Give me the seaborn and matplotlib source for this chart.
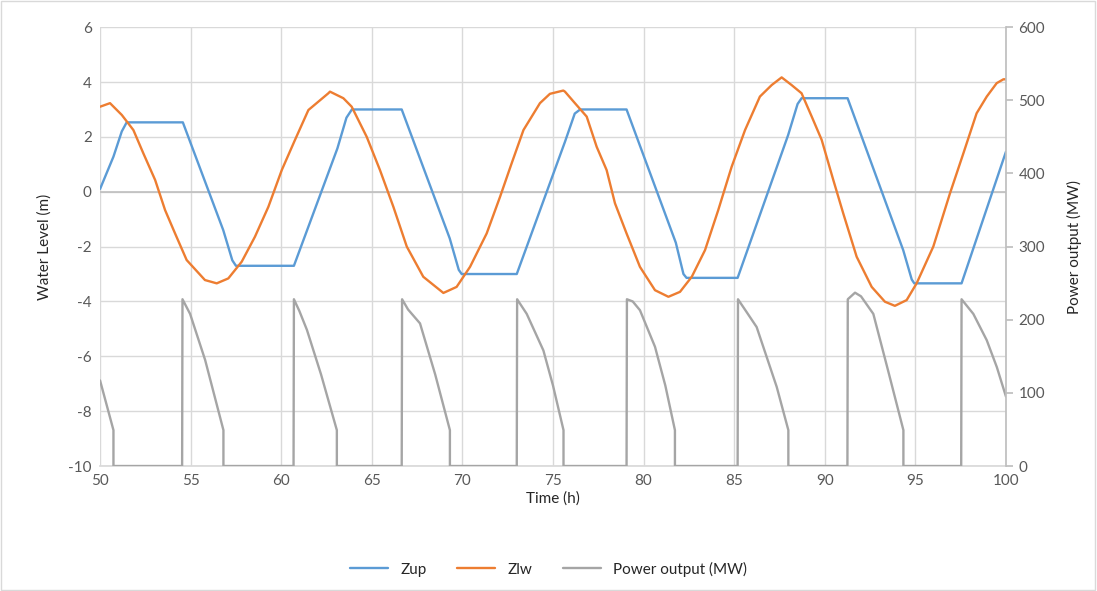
import matplotlib
matplotlib.use("Agg")
import matplotlib.pyplot as plt
import seaborn as sns

# Upper reservoir level (m)
zup_t = [50, 50.74, 51.2, 51.47, 54.57, 56.8, 57.3, 57.5, 60.7, 63.1, 63.6, 63.9,
         66.65, 69.3, 69.8, 69.96, 73.0, 75.66, 76.2, 76.5, 79.06, 81.78, 82.2, 82.37,
         85.19, 87.98, 88.5, 88.72, 91.26, 94.33, 94.8, 94.94, 97.55, 100]
zup = [0.1, 1.28, 2.2, 2.53, 2.53, -1.4, -2.5, -2.7, -2.7, 1.58, 2.7, 3.0,
       3.0, -1.7, -2.85, -3.0, -3.0, 1.82, 2.85, 3.0, 3.0, -1.86, -3.0, -3.14,
       -3.14, 2.07, 3.2, 3.41, 3.41, -2.13, -3.2, -3.34, -3.34, 1.46]

# Lower reservoir level (m)
zlw_t = [50, 50.55, 51.2, 51.84, 52.39, 53.04, 53.59, 54.14, 54.78, 55.79, 56.44,
         57.08, 57.82, 58.55, 59.29, 60.03, 60.76, 61.5, 62.6, 62.69, 63.43, 63.89,
         64.72, 65.45, 66.19, 66.93, 67.84, 68.95, 69.68, 70.42, 71.34, 72.08, 72.72,
         73.37, 74.28, 74.83, 75.57, 75.66, 76.21, 76.86, 77.41, 77.96, 78.42, 79.06,
         79.8, 80.63, 81.37, 82.01, 82.66, 83.39, 84.12, 84.86, 85.6, 86.42, 87.07,
         87.62, 88.17, 88.72, 89.28, 89.83, 90.47, 91.02, 91.76, 92.59, 93.32, 93.87,
         94.52, 95.07, 95.99, 96.91, 97.65, 98.38, 98.94, 99.49, 99.86, 100]
zlw = [3.1, 3.23, 2.8, 2.25, 1.4, 0.43, -0.67, -1.52, -2.49, -3.22, -3.34,
       -3.16, -2.55, -1.64, -0.55, 0.79, 1.89, 2.98, 3.59, 3.65, 3.41, 3.1,
       2.0, 0.79, -0.55, -2.0, -3.1, -3.69, -3.47, -2.74, -1.52, -0.18, 1.04,
       2.25, 3.23, 3.57, 3.69, 3.65, 3.23, 2.74, 1.64, 0.79, -0.42, -1.52,
       -2.74, -3.59, -3.83, -3.65, -3.1, -2.13, -0.67, 0.91, 2.25, 3.47, 3.89,
       4.17, 3.89, 3.59, 2.74, 1.89, 0.43, -0.79, -2.37, -3.47, -4.01, -4.16,
       -3.95, -3.34, -2.0, -0.06, 1.4, 2.86, 3.47, 3.96, 4.1, 4.1]

# Power output (MW)
pw_t = [50, 50.74, 50.74, 54.53, 54.55, 54.97, 55.8, 56.81, 56.81,
        60.68, 60.7, 61.0, 61.42, 62.2, 63.07, 63.07,
        66.65, 66.67, 67.0, 67.66, 68.5, 69.31, 69.31,
        73.0, 73.02, 73.55, 74.47, 75.0, 75.58, 75.58,
        79.06, 79.08, 79.4, 79.8, 80.63, 81.2, 81.73, 81.73,
        85.19, 85.21, 85.7, 86.24, 87.35, 87.99, 87.99,
        91.25, 91.27, 91.67, 92.0, 92.68, 93.5, 94.34, 94.34,
        97.53, 97.55, 98.2, 98.94, 99.5, 100]
pw = [117, 49, 0, 0, 228, 208, 145, 49, 0,
      0, 228, 212, 186, 125, 49, 0,
      0, 228, 214, 195, 125, 49, 0,
      0, 228, 208, 158, 110, 49, 0,
      0, 228, 225, 213, 163, 110, 49, 0,
      0, 228, 210, 190, 108, 49, 0,
      0, 228, 237, 232, 208, 130, 49, 0,
      0, 228, 208, 172, 135, 95]

sns.set_theme(style="white")
plt.rcParams["font.family"] = ["Lato", "DejaVu Sans"]
plt.rcParams["axes.unicode_minus"] = False

fig = plt.figure(figsize=(10.97, 5.91), dpi=100)
ax = fig.add_axes([0.0912, 0.2115, 0.8258, 0.7425])
ax2 = ax.twinx()

blue, orange, gray = "#5B9BD5", "#ED7D31", "#A5A5A5"
tick_c = "#595959"

ax.grid(True, color="#D9D9D9", linewidth=1)
ax.axhline(0, color="#BFBFBF", linewidth=1.2, zorder=1)

sns.lineplot(x=zup_t, y=zup, ax=ax, color=blue, linewidth=1.7, label="Zup",
             estimator=None, sort=False, legend=False)
sns.lineplot(x=zlw_t, y=zlw, ax=ax, color=orange, linewidth=1.7, label="Zlw",
             estimator=None, sort=False, legend=False)
sns.lineplot(x=pw_t, y=pw, ax=ax2, color=gray, linewidth=1.7,
             label="Power output (MW)", estimator=None, sort=False, legend=False)

ax.set_xlim(50, 100)
ax.set_ylim(-10, 6)
ax.set_xticks(range(50, 101, 5))
ax.set_yticks(range(-10, 7, 2))
ax2.set_ylim(0, 600)
ax2.set_yticks(range(0, 601, 100))

for a in (ax, ax2):
    for s in a.spines.values():
        s.set_visible(False)
ax2.spines["right"].set_visible(True)
ax2.spines["right"].set_color("#BFBFBF")
ax.spines["bottom"].set_visible(True)
ax.spines["bottom"].set_color("#D9D9D9")

ax.tick_params(axis="both", length=0, labelsize=11, labelcolor=tick_c, pad=6)
ax2.tick_params(axis="y", length=5, color="#BFBFBF", labelsize=11,
                labelcolor=tick_c, pad=4, direction="out")

ax.set_xlabel("Time (h)", fontsize=11, color="#262626", labelpad=2)
ax.set_ylabel("Water Level (m)", fontsize=11, color="#262626", labelpad=12)
ax2.set_ylabel("Power output (MW)", fontsize=11, color="#262626", labelpad=16)

h1, l1 = ax.get_legend_handles_labels()
h2, l2 = ax2.get_legend_handles_labels()
fig.legend(h1 + h2, l1 + l2, loc="center", bbox_to_anchor=(0.5, 0.037), ncol=3,
           frameon=False, fontsize=11, handlelength=2.5, columnspacing=2.0,
           labelcolor="#262626")

fig.patches.append(plt.Rectangle((0.001, 0.002), 0.997, 0.996, transform=fig.transFigure,
                                 fill=False, edgecolor="#D9D9D9", linewidth=1))

fig.savefig("out.png", dpi=100)
